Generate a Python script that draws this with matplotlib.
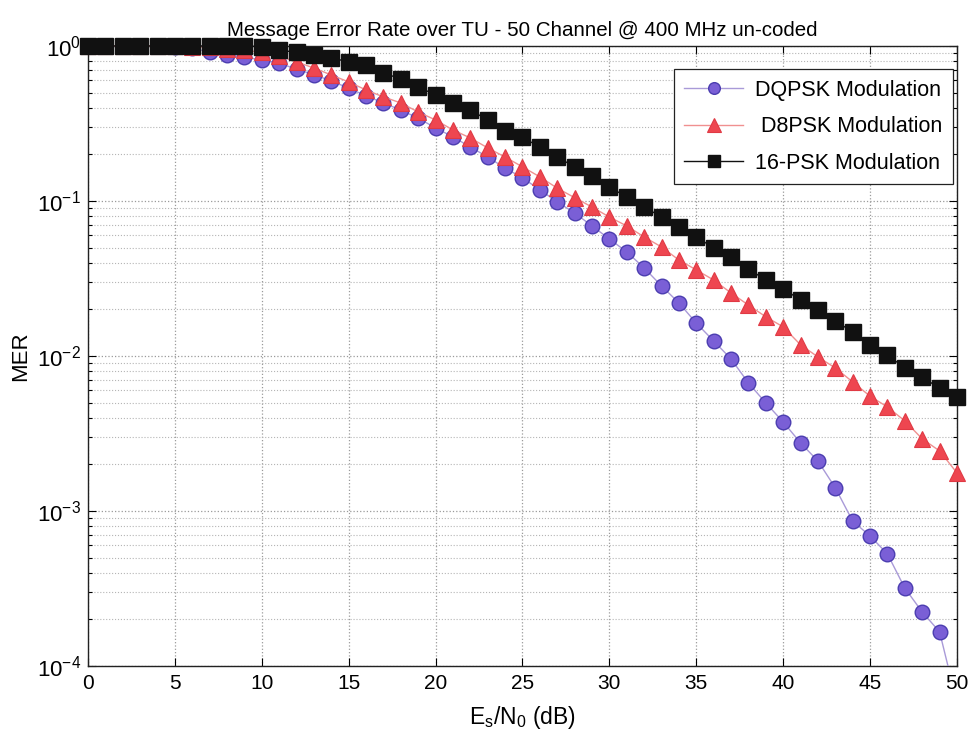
import matplotlib
matplotlib.use("Agg")
import matplotlib.pyplot as plt
from matplotlib.ticker import LogLocator, NullFormatter, FixedLocator
import numpy as np

plt.rcParams['font.family'] = ['Liberation Sans', 'DejaVu Sans']
plt.rcParams['mathtext.fontset'] = 'custom'
plt.rcParams['mathtext.rm'] = 'Liberation Sans'
plt.rcParams['mathtext.it'] = 'Liberation Sans'

# Es/N0 in dB
snr_db = list(range(0, 51))

mer_dqpsk = [1.0, 1.0, 1.0, 1.0, 1.0, 0.99, 0.97, 0.91, 0.875, 0.85,
             0.81, 0.777, 0.706, 0.654, 0.594, 0.535, 0.476, 0.429, 0.386, 0.342,
             0.296, 0.259, 0.223, 0.192, 0.163, 0.141, 0.118, 0.0986, 0.0837, 0.069,
             0.0569, 0.0469, 0.037, 0.0283, 0.022, 0.0163, 0.0125, 0.00957, 0.0067, 0.00498,
             0.00375, 0.00275, 0.0021, 0.00141, 0.00086, 0.00069, 0.000528, 0.000318, 0.000223, 0.000166,
             5.8e-5]

mer_d8psk = [1.0, 1.0, 1.0, 1.0, 1.0, 1.0, 0.99, 0.98, 0.96, 0.94,
             0.91, 0.86, 0.79, 0.72, 0.65, 0.586, 0.52, 0.469, 0.429, 0.375,
             0.333, 0.287, 0.255, 0.22, 0.192, 0.166, 0.143, 0.121, 0.105, 0.0914,
             0.0788, 0.069, 0.0586, 0.0505, 0.0416, 0.0359, 0.0309, 0.0255, 0.0213, 0.0179,
             0.0154, 0.0118, 0.00986, 0.00837, 0.0068, 0.0055, 0.00469, 0.00381, 0.00292, 0.00244,
             0.00176]

mer_16psk = [1.0, 1.0, 1.0, 1.0, 1.0, 1.0, 1.0, 1.0, 1.0, 1.0,
             0.99, 0.94, 0.91, 0.875, 0.837, 0.79, 0.754, 0.67, 0.612, 0.544,
             0.483, 0.429, 0.386, 0.333, 0.283, 0.257, 0.223, 0.192, 0.166, 0.145,
             0.123, 0.106, 0.0915, 0.0788, 0.068, 0.0586, 0.0498, 0.0435, 0.0364, 0.0309,
             0.0271, 0.023, 0.0198, 0.0168, 0.0143, 0.0118, 0.0101, 0.0084, 0.0073, 0.0062,
             0.0054]

labels = ['DQPSK Modulation', ' D8PSK Modulation', '16-PSK Modulation']
x_ticks = list(range(0, 51, 5))

fig = plt.figure(figsize=(9.8, 7.39), dpi=100)
ax = fig.add_axes([0.0898, 0.0988, 0.8867, 0.839])

series = [
    (mer_dqpsk, dict(color='#a99ad8', marker='o', ms=10.5, mfc='#7a5fd6',
                     mec='#4b3db0', mew=1.0, zorder=3)),
    (mer_d8psk, dict(color='#f09090', marker='^', ms=12, mfc='#ee4650',
                     mec='#e03a44', mew=0.8, zorder=4)),
    (mer_16psk, dict(color='#111111', marker='s', ms=11, mfc='#111111',
                     mec='#111111', zorder=5)),
]
for (vals, style), lab in zip(series, labels):
    ln, = ax.semilogy(snr_db, vals, '-', lw=1.0, label=lab, **style)
    ln.set_clip_on(False)

ax.set_xlim(0, 50)
ax.set_ylim(1e-4, 1)
# the DQPSK curve runs below the lower limit at the last point: keep it clipped
ax.lines[0].set_clip_on(True)

ax.xaxis.set_major_locator(FixedLocator(x_ticks))
ax.yaxis.set_major_locator(LogLocator(base=10, numticks=10))
ax.yaxis.set_minor_locator(LogLocator(base=10, subs=np.arange(2, 10), numticks=10))
ax.yaxis.set_minor_formatter(NullFormatter())

ax.grid(True, which='major', axis='both', color='#9a9a9a', ls=':', lw=0.9)
ax.grid(True, which='minor', axis='y', color='#b5b5b5', ls=':', lw=0.8)

ax.tick_params(which='both', direction='in', top=True, right=True)
ax.tick_params(axis='x', labelsize=15, pad=6)
ax.tick_params(axis='y', labelsize=16, pad=5)
ax.tick_params(which='major', length=6, width=0.8)
ax.tick_params(which='minor', length=3, width=0.8)
for s in ax.spines.values():
    s.set_linewidth(1.0)
    s.set_color('#222222')

ax.set_title('Message Error Rate over TU - 50 Channel @ 400 MHz un-coded',
             fontsize=14.8, pad=7)
ax.set_xlabel(r'E$_\mathregular{s}$/N$_\mathregular{0}$ (dB)', fontsize=16.5, labelpad=8)
ax.set_ylabel('MER', fontsize=16, labelpad=4)

leg = ax.legend(loc='upper right', bbox_to_anchor=(0.996, 0.963), borderaxespad=0,
                frameon=True, fancybox=False, edgecolor='#222222', framealpha=1,
                handlelength=2.7, handletextpad=0.6, borderpad=0.5, labelspacing=0.72,
                markerscale=0.8, prop={'size': 15.5})
leg.get_frame().set_linewidth(0.9)
leg.set_zorder(10)

fig.savefig('out.png', dpi=100)
